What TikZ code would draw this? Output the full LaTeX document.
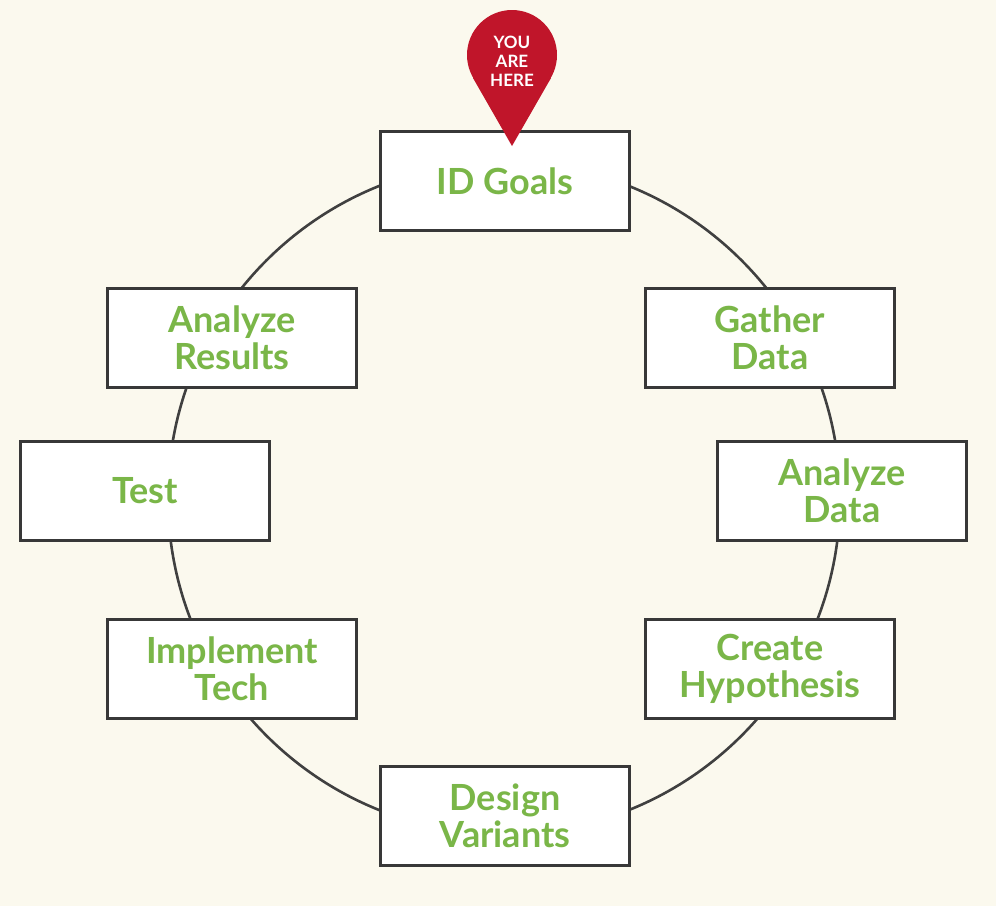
\documentclass[tikz,border=0pt]{standalone}
\usepackage{fontspec}
\setmainfont{Lato}
\begin{document}
\begin{tikzpicture}[x=1pt,y=-1pt,
  box/.style={draw=black!78,line width=2.6pt,fill=white,minimum width=249pt,minimum height=99pt,
    font=\fontsize{36}{37}\selectfont\bfseries,align=center,inner sep=0pt},
  ring/.style={draw=black!75,line width=2.6pt}]
\definecolor{bg}{HTML}{FBF9EE}
\definecolor{gr}{HTML}{7AB648}
\definecolor{pinred}{HTML}{C0152A}
\fill[bg] (0,0) rectangle (996,906);
\useasboundingbox (0,0) rectangle (996,906);
\coordinate (c) at (504,498);
\draw[ring] (c) circle[radius=336];
\tikzset{box/.append style={text=gr}}
\node[box] (g1) at (505,181) {ID Goals};
\node[box] (g2) at (770,338) {Gather\\Data};
\node[box] (g3) at (842,491) {Analyze\\Data};
\node[box] (g4) at (770,669) {Create\\Hypothesis};
\node[box] (g5) at (505,816) {Design\\Variants};
\node[box] (g6) at (232,669) {Implement\\Tech};
\node[box] (g7) at (145,491) {Test};
\node[box] (g8) at (232,338) {Analyze\\Results};
\fill[pinred] (512,55) circle[radius=45];
\fill[pinred] (512,146) -- (473,78) -- (551,78) -- cycle;
\node[text=white,font=\fontsize{17}{19}\selectfont\bfseries,align=center] (pinlbl) at (512,61) {YOU\\ARE\\HERE};
\end{tikzpicture}
\end{document}
